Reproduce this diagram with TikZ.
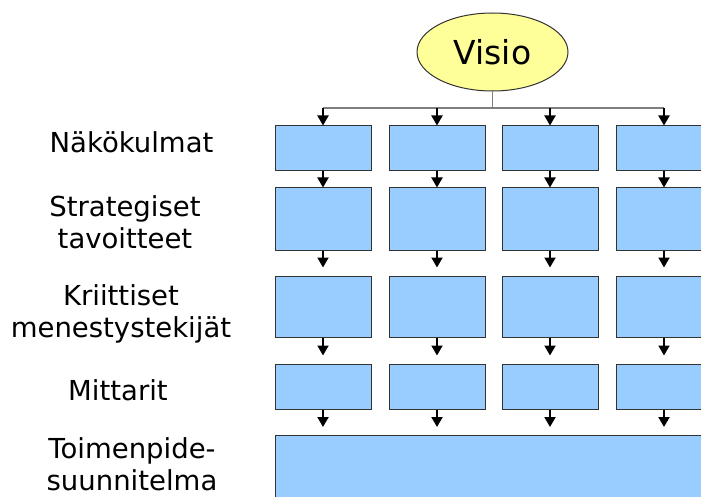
\documentclass[tikz,border=0pt]{standalone}
\usepackage{fontspec}
\setmainfont{DejaVu Sans}
\usetikzlibrary{arrows.meta,shapes.geometric}
\definecolor{boxblue}{HTML}{99CCFF}
\definecolor{visioyellow}{HTML}{FFFF99}
\definecolor{edge}{HTML}{333333}
\definecolor{busgray}{HTML}{7F7F7F}
\begin{document}
\begin{tikzpicture}[x=1pt,y=-1pt,
  cell/.style={draw=edge,line width=1pt,fill=boxblue,minimum width=96pt,inner sep=0pt},
  lab/.style={font=\fontsize{27.5}{32}\selectfont,align=center,anchor=base,inner sep=0pt},
  arr/.style={line width=2pt,-{Triangle[width=11pt,length=10pt]}},
  bus/.style={draw=busgray,line width=1.3pt}]
\useasboundingbox (0,0) rectangle (701,497);
% vision
\node[ellipse,draw=edge,line width=1pt,fill=visioyellow,minimum width=151pt,minimum height=78pt,inner sep=0pt,font=\fontsize{33}{38}\selectfont] (vis) at (492.5,52) {Visio};
% rows
\foreach \c/\x in {1/323,2/437,3/550,4/664}{
  \node[cell,minimum height=45pt] (a\c) at (\x,148.5) {};
  \node[cell,minimum height=62pt] (b\c) at (\x,219) {};
  \node[cell,minimum height=61pt] (c\c) at (\x,306.5) {};
  \node[cell,minimum height=45pt] (d\c) at (\x,386.5) {};
}
\node[cell,minimum width=450pt,minimum height=62pt,anchor=north west] (e) at (275,435) {};
% labels (anchor = baseline of last line)
\node[lab] (l1) at (131.5,153) {Näkökulmat};
\node[lab] (l2) at (125,248) {Strategiset\\tavoitteet};
\node[lab] (l3) at (121,337) {Kriittiset\\menestystekijät};
\node[lab] (l4) at (118,400) {Mittarit};
\node[lab] (l5) at (132,490) {Toimenpide-\\suunnitelma};
% bus
\coordinate (bus) at (492.5,108);
\draw[bus,line width=1pt] (vis.south) -- (bus);
\draw[bus] (a1.north |- bus) -- (a4.north |- bus);
\foreach \c in {1,2,3,4}{
  \draw[arr] (a\c.north |- bus) -- (a\c.north);
  \draw[arr] (a\c) -- (b\c);
  \draw[arr,shorten >=8pt] (b\c) -- (c\c);
  \draw[arr,shorten >=8pt] (c\c) -- (d\c);
  \draw[arr,shorten >=8pt] (d\c.south) -- (d\c.south |- e.north);
}
\end{tikzpicture}
\end{document}
